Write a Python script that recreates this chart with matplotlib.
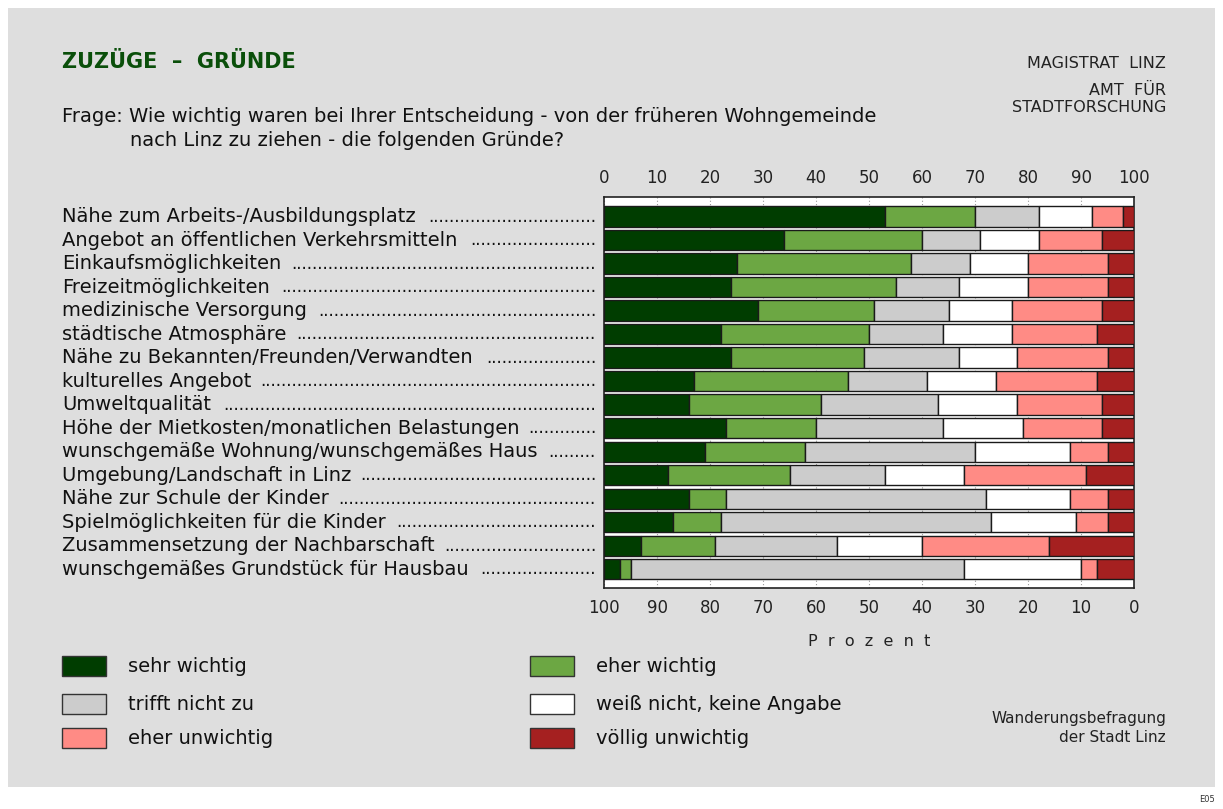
import matplotlib
matplotlib.use('Agg')
import matplotlib.pyplot as plt
import matplotlib.transforms as mtransforms
from matplotlib.patches import Rectangle

W, H = 1223, 809

reasons = [
    "Nähe zum Arbeits-/Ausbildungsplatz",
    "Angebot an öffentlichen Verkehrsmitteln",
    "Einkaufsmöglichkeiten",
    "Freizeitmöglichkeiten",
    "medizinische Versorgung",
    "städtische Atmosphäre",
    "Nähe zu Bekannten/Freunden/Verwandten",
    "kulturelles Angebot",
    "Umweltqualität",
    "Höhe der Mietkosten/monatlichen Belastungen",
    "wunschgemäße Wohnung/wunschgemäßes Haus",
    "Umgebung/Landschaft in Linz",
    "Nähe zur Schule der Kinder",
    "Spielmöglichkeiten für die Kinder",
    "Zusammensetzung der Nachbarschaft",
    "wunschgemäßes Grundstück für Hausbau",
]

categories = ["sehr wichtig", "eher wichtig", "trifft nicht zu",
              "weiß nicht, keine Angabe", "eher unwichtig", "völlig unwichtig"]

sehr_wichtig = [53, 34, 25, 24, 29, 22, 24, 17, 16, 23, 19, 12, 16, 13, 7, 3]
eher_wichtig = [17, 26, 33, 31, 22, 28, 25, 29, 25, 17, 19, 23, 7, 9, 14, 2]
trifft_nicht = [12, 11, 11, 12, 14, 14, 18, 15, 22, 24, 32, 18, 49, 51, 23, 63]
weiss_nicht = [10, 11, 11, 13, 12, 13, 11, 13, 15, 15, 18, 15, 16, 16, 16, 22]
eher_unwichtig = [6, 12, 15, 15, 17, 16, 17, 19, 16, 15, 7, 23, 7, 6, 24, 3]
voellig_unwichtig = [2, 6, 5, 5, 6, 7, 5, 7, 6, 6, 5, 9, 5, 5, 16, 7]

series = [sehr_wichtig, eher_wichtig, trifft_nicht, weiss_nicht,
          eher_unwichtig, voellig_unwichtig]
colors = ["#003d00", "#6ca743", "#cccccc", "#ffffff", "#ff8b85", "#a52020"]

ticks = list(range(0, 101, 10))

FS = 14


def px(x, y):
    return x / W, 1 - y / H


fig = plt.figure(figsize=(W / 100, H / 100), dpi=100)
fig.patch.set_facecolor("white")
fig.patches.append(Rectangle(px(8, 787), 1207 / W, 779 / H, transform=fig.transFigure,
                             facecolor="#dedede", edgecolor="none", zorder=-10))

x0, y0 = px(604, 588)
ax = fig.add_axes([x0, y0, 530 / W, 391 / H])
ax.set_facecolor("white")

left = [0] * len(reasons)
ypos = list(range(len(reasons)))
for vals, col in zip(series, colors):
    ax.barh(ypos, vals, left=left, height=0.86, color=col,
            edgecolor="#1a1a1a", linewidth=1.0, zorder=3)
    left = [l + v for l, v in zip(left, vals)]

ax.set_xlim(0, 100)
ax.set_ylim(len(reasons) - 0.2, -0.83)
ax.set_yticks([])
ax.set_xticks(ticks)
ax.set_xticklabels([str(100 - t) for t in ticks])
ax.tick_params(axis="x", length=0, labelsize=12, pad=8, colors="#222222")
ax.xaxis.grid(True, linestyle=(0, (1, 2)), color="#999999", linewidth=0.8, zorder=0)
for sp in ax.spines.values():
    sp.set_color("#222222")
    sp.set_linewidth(1.2)

top = ax.secondary_xaxis("top")
top.set_xticks(ticks)
top.tick_params(length=0, labelsize=12, pad=7, colors="#222222")
top.spines["top"].set_visible(False)

fig.text(*px(869, 641), "P  r  o  z  e  n  t", ha="center", va="center",
         fontsize=11.5, color="#222222")

# labels with dotted leaders
trans = mtransforms.blended_transform_factory(fig.transFigure, ax.transData)
lab_texts = []
for i, r in enumerate(reasons):
    t = ax.text(62 / W, i, r, transform=trans, ha="left", va="center",
                fontsize=FS, color="#111111")
    lab_texts.append(t)

fig.canvas.draw()
renderer = fig.canvas.get_renderer()
probe = fig.text(0, 0, "." * 20, fontsize=12)
dot_w = probe.get_window_extent(renderer).width / 20
probe.remove()
end_x = 596
for i, t in enumerate(lab_texts):
    ext = t.get_window_extent(renderer)
    n = int((end_x - ext.x1 - 8) / dot_w)
    if n > 0:
        ax.text(end_x / W, i, "." * n, transform=trans, ha="right", va="center",
                fontsize=12, color="#111111")

# header
fig.text(*px(62, 62), "ZUZÜGE  –  GRÜNDE", ha="left", va="center",
         fontsize=15, fontweight="bold", color="#0a4f0a")
fig.text(*px(62, 116), "Frage: Wie wichtig waren bei Ihrer Entscheidung - von der früheren Wohngemeinde",
         ha="left", va="center", fontsize=FS, color="#111111")
fig.text(*px(130, 140), "nach Linz zu ziehen - die folgenden Gründe?",
         ha="left", va="center", fontsize=FS, color="#111111")
fig.text(*px(1166, 63), "MAGISTRAT  LINZ", ha="right", va="center", fontsize=11.5, color="#222222")
fig.text(*px(1166, 90), "AMT  FÜR", ha="right", va="center", fontsize=11.5, color="#222222")
fig.text(*px(1166, 108), "STADTFORSCHUNG", ha="right", va="center", fontsize=11.5, color="#222222")

# legend
leg_pos = [(62, 666), (530, 666), (62, 704), (530, 704), (62, 738), (530, 738)]
for (lx, ly), lab, col in zip(leg_pos, categories, colors):
    fig.patches.append(Rectangle(px(lx, ly + 10), 44 / W, 20 / H, transform=fig.transFigure,
                                 facecolor=col, edgecolor="#333333", linewidth=1.0))
    fig.text(*px(lx + 66, ly), lab, ha="left", va="center", fontsize=FS, color="#111111")

fig.text(*px(1166, 718), "Wanderungsbefragung", ha="right", va="center", fontsize=11, color="#222222")
fig.text(*px(1166, 738), "der Stadt Linz", ha="right", va="center", fontsize=11, color="#222222")
fig.text(*px(1215, 800), "E05", ha="right", va="center", fontsize=6, color="#333333")

fig.savefig("out.png", dpi=100, facecolor=fig.get_facecolor())
